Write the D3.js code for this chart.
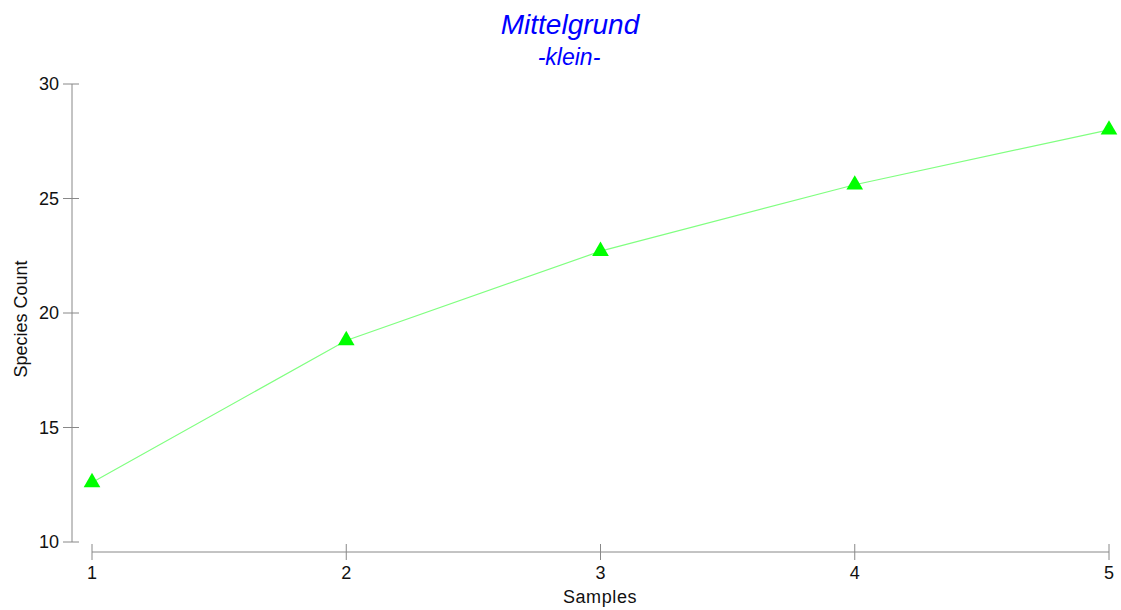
<!DOCTYPE html>
<html>
<head>
<meta charset="utf-8">
<script src="https://cdn.jsdelivr.net/npm/d3@7"></script>
<style>
  body { margin: 0; background: #fff; }
  text { font-family: Arial, "Liberation Sans", sans-serif; }
</style>
</head>
<body>
<script>
  // data
  var samples = [1, 2, 3, 4, 5];
  var speciesCount = [12.6, 18.8, 22.7, 25.6, 28.0];
  var yTicks = [10, 15, 20, 25, 30];

  var w = 1121;
  var h = 610;

  var svg = d3.select('body')
    .append('svg')
    .attr('width', w)
    .attr('height', h);

  var xScale = d3.scaleLinear()
    .domain([1, 5])
    .range([92, 1109]);

  var yScale = d3.scaleLinear()
    .domain([10, 30])
    .range([542, 84]);

  var axisColor = '#888';
  var textColor = '#111';

  // y axis
  var yAxis = svg.append('g');
  yAxis.append('line')
    .attr('x1', 72).attr('x2', 72)
    .attr('y1', yScale(30)).attr('y2', yScale(10))
    .attr('stroke', axisColor);
  yAxis.selectAll('line.tick')
    .data(yTicks)
    .enter()
    .append('line')
    .attr('class', 'tick')
    .attr('x1', 63).attr('x2', 79)
    .attr('y1', function(d) { return yScale(d); })
    .attr('y2', function(d) { return yScale(d); })
    .attr('stroke', axisColor);
  yAxis.selectAll('text')
    .data(yTicks)
    .enter()
    .append('text')
    .attr('x', 59)
    .attr('y', function(d) { return yScale(d); })
    .attr('dy', '0.35em')
    .attr('text-anchor', 'end')
    .attr('font-size', '18px')
    .attr('fill', textColor)
    .text(function(d) { return d; });

  // x axis
  var xAxis = svg.append('g');
  xAxis.append('line')
    .attr('x1', xScale(1)).attr('x2', xScale(5))
    .attr('y1', 552).attr('y2', 552)
    .attr('stroke', axisColor);
  xAxis.selectAll('line.tick')
    .data(samples)
    .enter()
    .append('line')
    .attr('class', 'tick')
    .attr('x1', function(d) { return xScale(d); })
    .attr('x2', function(d) { return xScale(d); })
    .attr('y1', 544).attr('y2', 560)
    .attr('stroke', axisColor);
  xAxis.selectAll('text')
    .data(samples)
    .enter()
    .append('text')
    .attr('x', function(d) { return xScale(d); })
    .attr('y', 579)
    .attr('text-anchor', 'middle')
    .attr('font-size', '18px')
    .attr('fill', textColor)
    .text(function(d) { return d; });

  // axis titles
  svg.append('text')
    .attr('x', 600)
    .attr('y', 603)
    .attr('text-anchor', 'middle')
    .attr('font-size', '18px')
    .attr('letter-spacing', '0.6px')
    .attr('fill', textColor)
    .text('Samples');

  svg.append('text')
    .attr('transform', 'translate(27,319) rotate(-90)')
    .attr('text-anchor', 'middle')
    .attr('font-size', '18px')
    .attr('fill', textColor)
    .text('Species Count');

  // titles
  svg.append('text')
    .attr('x', 570)
    .attr('y', 34)
    .attr('text-anchor', 'middle')
    .attr('font-size', '28px')
    .attr('font-style', 'italic')
    .attr('fill', '#0000ff')
    .text('Mittelgrund');

  svg.append('text')
    .attr('x', 569)
    .attr('y', 65)
    .attr('text-anchor', 'middle')
    .attr('font-size', '23px')
    .attr('font-style', 'italic')
    .attr('fill', '#0000ff')
    .text('-klein-');

  // line
  var line = d3.line()
    .x(function(d, i) { return xScale(samples[i]); })
    .y(function(d) { return yScale(d); });

  svg.append('path')
    .datum(speciesCount)
    .attr('d', line)
    .attr('fill', 'none')
    .attr('stroke', '#80ff80')
    .attr('stroke-width', 1.2);

  // triangle markers
  var tri = d3.symbol().type(d3.symbolTriangle).size(120);
  svg.selectAll('path.marker')
    .data(speciesCount)
    .enter()
    .append('path')
    .attr('class', 'marker')
    .attr('d', tri)
    .attr('transform', function(d, i) {
      return 'translate(' + xScale(samples[i]) + ',' + yScale(d) + ')';
    })
    .attr('fill', '#00ff00');
</script>
</body>
</html>
